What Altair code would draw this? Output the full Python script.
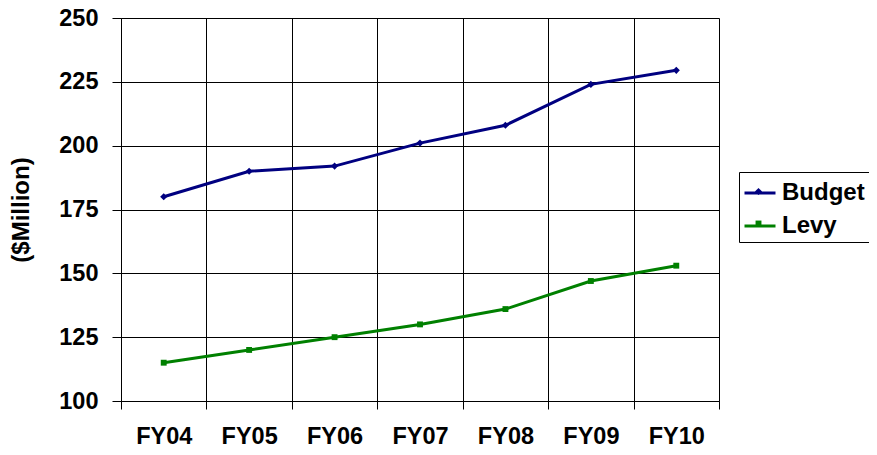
import altair as alt
import pandas as pd

years = ["FY04", "FY05", "FY06", "FY07", "FY08", "FY09", "FY10"]
budget = [180, 190, 192, 201, 208, 224, 229.5]
levy = [115, 120, 125, 130, 136, 147, 153]
series_names = ["Budget", "Levy"]
y_ticks = [100, 125, 150, 175, 200, 225, 250]

NAVY = "#000080"
GREEN = "#008000"
FONT = "Liberation Sans"

rows = []
for i, fy in enumerate(years):
    rows.append({"fy": fy, "series": "Budget", "value": budget[i]})
    rows.append({"fy": fy, "series": "Levy", "value": levy[i]})
df = pd.DataFrame(rows)

x_enc = alt.X(
    "fy:N",
    sort=years,
    bandPosition=0.5,
    scale=alt.Scale(type="band", paddingInner=0, paddingOuter=0),
    axis=alt.Axis(
        title=None, labelAngle=0, tickBand="extent", grid=True,
        labelFont=FONT, labelFontSize=23.5, labelFontWeight="bold", labelColor="black",
        labelPadding=15, tickSize=8, tickColor="black", domainColor="black",
        gridColor="black", gridOpacity=1,
    ),
)
y_enc = alt.Y(
    "value:Q",
    scale=alt.Scale(domain=[100, 250], nice=False, zero=False),
    axis=alt.Axis(
        values=y_ticks, title="($Million)",
        labelFont=FONT, labelFontSize=23.5, labelFontWeight="bold", labelColor="black",
        labelPadding=14, tickSize=9, tickColor="black", domainColor="black",
        gridColor="black", gridOpacity=1,
        titleFont=FONT, titleFontSize=24, titleFontWeight="bold", titleColor="black",
        titlePadding=25,
    ),
)

diamond_path = "M0,-0.23L0.23,0L0,0.23L-0.23,0Z"
square_path = "M-0.19,-0.19L0.19,-0.19L0.19,0.19L-0.19,0.19Z"

common_legend = dict(
    orient="none", legendX=618, legendY=154, title=None,
    labelFont=FONT, labelFontSize=24, labelFontWeight="bold",
    symbolSize=961, labelOffset=5, padding=4, rowPadding=4, labelLimit=0,
)

legend_lines = alt.Legend(
    symbolType="stroke", symbolStrokeWidth=3, labelColor="black",
    strokeColor="black", fillColor="white", **common_legend,
)
legend_marks = alt.Legend(
    labelExpr="''", labelColor="transparent", symbolStrokeWidth=0, symbolOpacity=1,
    strokeColor="transparent", **common_legend,
)

base = alt.Chart(df)

lines = base.mark_line(strokeWidth=3).encode(
    x=x_enc,
    y=y_enc,
    color=alt.Color("series:N", scale=alt.Scale(domain=series_names, range=[NAVY, GREEN]), legend=legend_lines),
)

pts = base.mark_point(filled=True, size=961, opacity=1, strokeWidth=0).encode(
    x=x_enc,
    y=y_enc,
    fill=alt.Fill("series:N", scale=alt.Scale(range=[NAVY, GREEN]), legend=legend_marks),
    shape=alt.Shape("series:N", scale=alt.Scale(range=[diamond_path, square_path]), legend=legend_marks),
)

chart = alt.layer(lines, pts).properties(
    width=598, height=383,
    autosize=alt.AutoSizeParams(type="none"),
    padding={"left": 113, "top": 10, "right": 150, "bottom": 46},
).configure_view(stroke="black", strokeWidth=1).configure(background="white")

chart.save("out.html", embed_options={"renderer": "svg", "actions": False})
